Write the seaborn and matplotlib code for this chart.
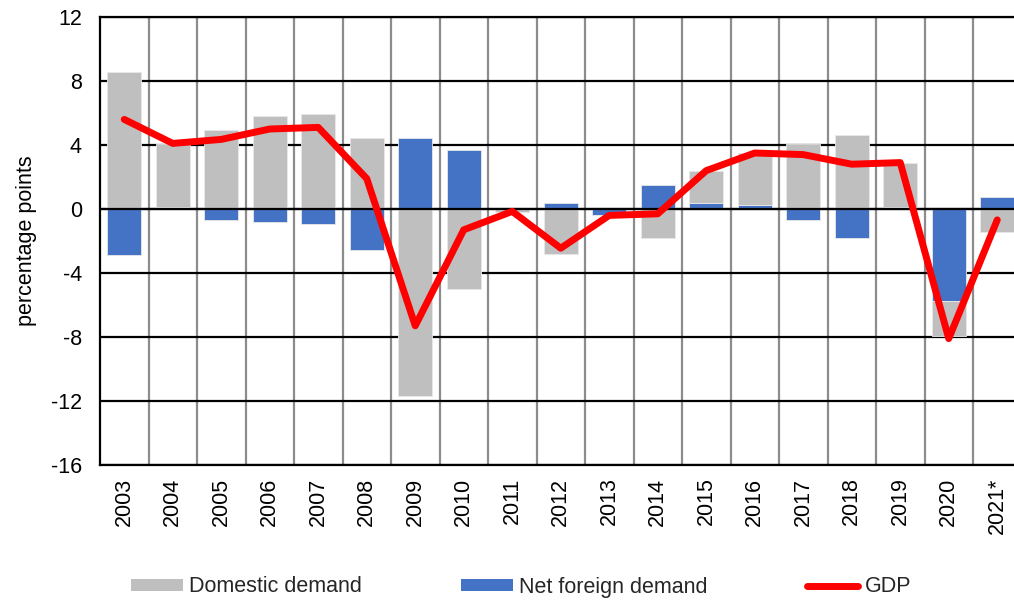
import numpy as np
import pandas as pd
import matplotlib
matplotlib.use("Agg")
import matplotlib.pyplot as plt
import seaborn as sns
from matplotlib.patches import Patch
from matplotlib.lines import Line2D

# data (percentage points)
years = ["2003", "2004", "2005", "2006", "2007", "2008", "2009", "2010", "2011",
         "2012", "2013", "2014", "2015", "2016", "2017", "2018", "2019", "2020", "2021*"]
domestic = [8.54, 3.97, 4.96, 5.84, 5.96, 4.46, -11.67, -5.02, -0.2,
            -2.8, -0.05, -1.8, 2.0, 3.25, 4.09, 4.6, 2.76, -2.19, -1.44]
net_foreign = [-2.9, 0.12, -0.71, -0.83, -0.94, -2.54, 4.46, 3.71, 0.0,
               0.4, -0.35, 1.52, 0.38, 0.25, -0.71, -1.79, 0.12, -5.77, 0.75]
gdp = [5.6, 4.1, 4.35, 5.0, 5.1, 1.9, -7.3, -1.3, -0.15,
       -2.45, -0.4, -0.3, 2.4, 3.5, 3.4, 2.8, 2.9, -8.1, -0.68]

df = pd.DataFrame({"year": years, "domestic": domestic,
                   "net": net_foreign, "gdp": gdp})
df["pos"] = np.arange(len(df))
# stacked like excel: net foreign sits next to zero, domestic goes on top
same_sign = np.sign(df["domestic"]) == np.sign(df["net"])
df["dom_bottom"] = np.where(same_sign, df["net"], 0.0)

sns.set_theme(style="white")
plt.rcParams["font.family"] = ["Liberation Sans", "DejaVu Sans"]
plt.rcParams["axes.unicode_minus"] = False

GRAY = "#BFBFBF"
BLUE = "#4472C4"
RED = "#FF0000"
FS = 15.5

fig = plt.figure(figsize=(10.14, 6), dpi=100)
ax = fig.add_axes([100 / 1014, 1 - 465 / 600, 921.5 / 1014, 448 / 600])

ax.bar(df["pos"], df["net"], width=0.7, color=BLUE,
       edgecolor="#E8E8E8", linewidth=0.6, zorder=2)
ax.bar(df["pos"], df["domestic"], bottom=df["dom_bottom"], width=0.7,
       color=GRAY, edgecolor="#E8E8E8", linewidth=0.6, zorder=2)
ax.axhline(0, color="black", lw=1.6, zorder=2.5)

sns.lineplot(data=df, x="pos", y="gdp", ax=ax, color=RED, lw=5,
             solid_capstyle="round", solid_joinstyle="round", zorder=3,
             legend=False)

ax.set_xlim(-0.5, len(df) - 0.5)
ax.set_ylim(-16, 12)
ax.set_yticks(np.arange(-16, 13, 4))
ax.set_xticks(df["pos"])
ax.set_xticklabels(df["year"], rotation=90, va="top", ha="center")
ax.set_xticks(np.arange(0.5, len(df) - 1, 1), minor=True)

ax.set_axisbelow(True)
ax.grid(axis="y", which="major", color="black", lw=1.6)
ax.grid(axis="x", which="minor", color="#8C8C8C", lw=1.6)
ax.grid(axis="x", which="major", visible=False)

for s in ["left", "bottom", "top"]:
    ax.spines[s].set_color("black")
    ax.spines[s].set_linewidth(1.6)
ax.spines["right"].set_visible(False)

ax.tick_params(axis="y", length=0, pad=13, labelsize=FS, colors="black")
ax.tick_params(axis="x", which="both", length=0, pad=9, labelsize=FS,
               colors="black")
ax.set_xlabel("")
ax.set_ylabel("percentage points", fontsize=FS, color="black", labelpad=10)

handles = [Patch(facecolor=GRAY, edgecolor="none"),
           Patch(facecolor=BLUE, edgecolor="none"),
           Line2D([], [], color=RED, lw=5, solid_capstyle="round")]
fig.legend(handles, ["Domestic demand", "Net foreign demand", "GDP"],
           loc="center", bbox_to_anchor=(521 / 1014, 1 - 587 / 600), ncol=3,
           frameon=False, fontsize=FS, handlelength=2.4, handleheight=0.5,
           handletextpad=0.3, columnspacing=4.6, borderpad=0, borderaxespad=0)

fig.savefig("out.png", dpi=100)
